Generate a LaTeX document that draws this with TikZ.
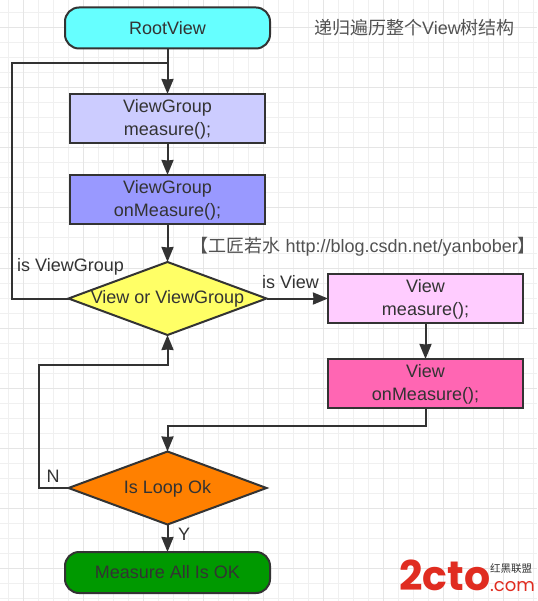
\documentclass[tikz,border=0pt]{standalone}
\usepackage{fontspec}
\setmainfont{Liberation Sans}
\newfontfamily\cjk{Noto Sans CJK SC}
\newfontfamily\logofont{Poppins}
\usetikzlibrary{shapes.geometric,arrows.meta,calc}
\definecolor{ink}{HTML}{333333}
\newcommand\lowerline{\rule{0pt}{15pt}}
\tikzset{
  basenode/.style={draw=ink,line width=2pt,text=ink,align=center,inner sep=0pt,outer sep=0pt,
    font=\fontsize{18}{23}\selectfont},
  terminal/.style={basenode,rectangle,rounded corners=14pt,minimum width=205pt,minimum height=41pt},
  procbox/.style={basenode,rectangle,minimum width=195pt,minimum height=49pt},
  decision/.style={basenode,diamond,aspect=2.72,minimum width=198pt,minimum height=73pt},
  link/.style={draw=ink,line width=2pt},
  arrowlink/.style={link,-{Stealth[length=15pt,width=12pt,inset=0.5pt]}},
  lab/.style={text=ink,inner sep=0pt,font=\fontsize{18}{23}\selectfont},
  note/.style={text=ink!85,inner sep=0pt,font=\fontsize{18}{20}\selectfont},
}
\begin{document}
\begin{tikzpicture}[x=1pt,y=-1pt]
\useasboundingbox (0,0) rectangle (537,601);
\fill[white] (0,0) rectangle (537,601);
% grid
\foreach \g in {8,23,...,533}{\draw[color=black!6,line width=1pt] (\g,0) -- (\g,601);}
\foreach \g in {13,28,...,598}{\draw[color=black!6,line width=1pt] (0,\g) -- (537,\g);}
\foreach \g in {23,83,...,503}{\draw[color=black!10,line width=1pt] (\g,0) -- (\g,601);}
\foreach \g in {28,88,...,568}{\draw[color=black!10,line width=1pt] (0,\g) -- (537,\g);}
% nodes
\node[terminal,fill={rgb,255:red,102;green,255;blue,255}] (root) at (167.5,28) {RootView};
\node[procbox,fill={rgb,255:red,204;green,204;blue,255}] (vgm) at (167.5,118.5) {\lowerline ViewGroup\\measure();};
\node[procbox,fill={rgb,255:red,153;green,153;blue,255}] (vgo) at (167.5,199.5) {\lowerline ViewGroup\\onMeasure();};
\node[decision,fill={rgb,255:red,255;green,255;blue,102}] (dec) at (167.5,298.5) {};
\node[lab] (dect) at (167.5,299) {View or ViewGroup};
\node[procbox,fill={rgb,255:red,255;green,204;blue,255}] (vm) at (425.5,298.5) {\lowerline View\\measure();};
\node[procbox,fill={rgb,255:red,255;green,102;blue,179}] (vo) at (425.5,383.5) {\lowerline View\\onMeasure();};
\node[decision,fill={rgb,255:red,255;green,128;blue,0}] (loop) at (167.5,488) {};
\node[lab] (loopt) at (167.5,488.5) {Is Loop Ok};
\node[terminal,fill={rgb,255:red,0;green,153;blue,0}] (all) at (167.5,572.5) {Measure All Is OK};
% free coordinates
\coordinate (a) at (12,298.5);
\coordinate (b) at (12,63.5);
\coordinate (c) at (167.5,63.5);
\coordinate (d) at (425.5,426);
\coordinate (e) at (167.5,426);
\coordinate (f) at (39,488);
\coordinate (g) at (39,365);
\coordinate (h) at (167.5,365);
% connectors
\draw[arrowlink] (root) -- (vgm);
\draw[arrowlink] (vgm) -- (vgo);
\draw[arrowlink] (vgo) -- (dec);
\draw[link] (dec.west) -- (a) -- (b) -- (c);
\draw[arrowlink] (dec.east) -- (vm.west);
\draw[arrowlink] (vm) -- (vo);
\draw[arrowlink] (vo.south) -- (d) -- (e) -- (loop.north);
\draw[arrowlink] (loop.west) -- (f) -- (g) -- (h) -- (dec.south);
\draw[arrowlink] (loop) -- (all);
% labels
\node[lab,anchor=west] (l1) at (17,267) {is ViewGroup};
\node[lab,anchor=west] (l2) at (262,282) {is View};
\node[lab] (l3) at (53,476) {N};
\node[lab] (l4) at (184,534) {Y};
\node[note,anchor=east] (n1) at (515,28) {{\cjk 递归遍历整个}View{\cjk 树结构}};
\node[note,anchor=east] (n2) at (536,247) {{\cjk 【工匠若水} http://blog.csdn.net/yanbober{\cjk 】}};
% watermark
\node[inner sep=0pt,anchor=base west,text={rgb,255:red,224;green,44;blue,32},font=\logofont\bfseries\fontsize{41}{41}\selectfont] (w1) at (399,590) {2cto};
\node[inner sep=0pt,anchor=base east,text={rgb,255:red,224;green,44;blue,32},font=\logofont\fontsize{18}{18}\selectfont] (w2) at (535,591) {.com};
\node[inner sep=0pt,anchor=west,text=ink,font=\cjk\fontsize{10.5}{11}\selectfont] (w3) at (490,569) {红黑联盟};
\end{tikzpicture}
\end{document}
